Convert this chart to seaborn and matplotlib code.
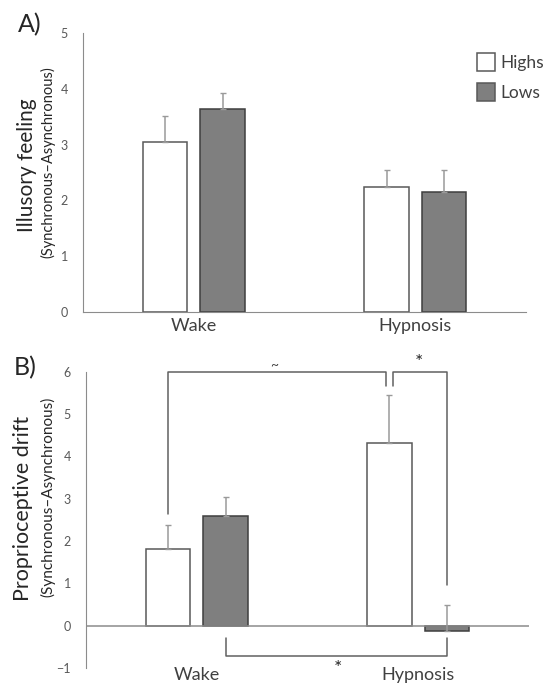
import numpy as np
import pandas as pd
import matplotlib
matplotlib.use('Agg')
import matplotlib.pyplot as plt
import seaborn as sns

# Data
conditions = ['Wake', 'Hypnosis']
groups = ['Highs', 'Lows']

illusory_highs = [3.05, 2.24]
illusory_lows = [3.63, 2.15]
illusory_highs_err = [0.47, 0.31]
illusory_lows_err = [0.29, 0.39]

drift_highs = [1.81, 4.32]
drift_lows = [2.60, -0.12]
drift_highs_err = [0.58, 1.13]
drift_lows_err = [0.44, 0.62]

sns.set_style('white')
plt.rcParams['font.family'] = ['Lato', 'DejaVu Sans']

text_gray = '#595959'
line_gray = '#8c8c8c'
palette = {'Highs': 'white', 'Lows': '#7f7f7f'}


def make_df(highs, lows):
    return pd.DataFrame({
        'condition': conditions * 2,
        'group': ['Highs'] * 2 + ['Lows'] * 2,
        'value': list(highs) + list(lows),
    })


def draw_panel(ax, highs, lows, highs_err, lows_err, legend):
    df = make_df(highs, lows)
    sns.barplot(
        data=df, x='condition', y='value', hue='group',
        order=conditions, hue_order=groups, palette=palette,
        errorbar=None, width=0.52, gap=0.23,
        edgecolor='#595959', linewidth=1.1,
        legend=legend, ax=ax
    )
    # darker outline for the grey bars
    for bar in ax.containers[1]:
        bar.set_edgecolor('#3f3f3f')
    # one-sided (upper) error bars
    for cont, vals, errs in zip(ax.containers, [highs, lows], [highs_err, lows_err]):
        xs = [b.get_x() + b.get_width() / 2 for b in cont]
        ax.errorbar(xs, vals, yerr=[np.zeros(len(errs)), errs], fmt='none',
                    ecolor='#9a9a9a', elinewidth=1.1, capsize=2.5,
                    capthick=1.0, zorder=5)
    ax.set_xlabel('')
    ax.set_ylabel('')
    ax.set_xlim(-0.5, 1.5)
    sns.despine(ax=ax, top=True, right=True)
    ax.spines['left'].set_color(line_gray)
    ax.spines['bottom'].set_color(line_gray)
    ax.tick_params(axis='y', length=0, pad=11, labelsize=9, labelcolor=text_gray)
    ax.tick_params(axis='x', length=0, labelsize=13, labelcolor='#404040')


fig = plt.figure(figsize=(5.48, 6.85), dpi=100)

# Panel A
axA = fig.add_axes([0.1515, 0.5445, 0.8085, 0.4073])
draw_panel(axA, illusory_highs, illusory_lows, illusory_highs_err,
           illusory_lows_err, legend=True)
axA.set_ylim(0, 5)
axA.set_yticks(range(0, 6))
axA.tick_params(axis='x', pad=4)
leg = axA.legend(frameon=False, loc='upper right', bbox_to_anchor=(1.075, 0.985),
                 handlelength=1.0, handleheight=1.2, handletextpad=0.3,
                 labelspacing=0.7, fontsize=12.5)
for t in leg.get_texts():
    t.set_color('#404040')

fig.text(0.033, 1 - 25 / 685, 'A)', fontsize=18, va='center', ha='left',
         color='#262626')
fig.text(0.05, 1 - 165 / 685, 'Illusory feeling', rotation=90,
         fontsize=15, ha='center', va='center', color='#262626')
fig.text(0.088, 1 - 162 / 685, '(Synchronous\u2013Asynchronous)', rotation=90,
         fontsize=10.5, ha='center', va='center', color='#262626')

# Panel B
axB = fig.add_axes([0.157, 0.0248, 0.808, 0.4326])
draw_panel(axB, drift_highs, drift_lows, drift_highs_err,
           drift_lows_err, legend=False)
axB.set_ylim(-1, 6)
axB.set_yticks(range(-1, 7))
axB.spines['bottom'].set_visible(False)
axB.axhline(0, color=line_gray, lw=1.1, zorder=1)
axB.tick_params(axis='x', pad=-1)

fig.text(0.025, 1 - 368 / 685, 'B)', fontsize=18, va='center', ha='left',
         color='#262626')
fig.text(0.042, 1 - 508 / 685, 'Proprioceptive drift', rotation=90,
         fontsize=15.5, ha='center', va='center', color='#262626')
fig.text(0.088, 1 - 497 / 685, '(Synchronous\u2013Asynchronous)', rotation=90,
         fontsize=11, ha='center', va='center', color='#262626')

# significance brackets, anchored on bar centres
hi = [b.get_x() + b.get_width() / 2 for b in axB.containers[0]]
lo = [b.get_x() + b.get_width() / 2 for b in axB.containers[1]]
top_y = 6.0
split = 0.016
br = dict(color='#606060', lw=1.1, clip_on=False, zorder=6)

axB.plot([hi[0], hi[0], hi[1] - split, hi[1] - split],
         [2.63, top_y, top_y, 5.65], **br)
axB.plot([hi[1] + split, hi[1] + split, lo[1], lo[1]],
         [5.65, top_y, top_y, 0.95], **br)
axB.plot([lo[0], lo[0], lo[1], lo[1]], [-0.3, -0.71, -0.71, -0.3], **br)

axB.text((hi[0] + hi[1]) / 2 - 0.02, top_y + 0.02, '~', ha='center', va='bottom',
         fontsize=10, color='#404040')
axB.text((hi[1] + lo[1]) / 2 + 0.005, top_y + 0.02, '*', ha='center', va='bottom',
         fontsize=14, color='#262626')
axB.text((lo[0] + lo[1]) / 2 + 0.01, -1.0, '*', ha='center', va='center',
         fontsize=14, color='#262626', clip_on=False)

plt.savefig('out.png', dpi=100)
